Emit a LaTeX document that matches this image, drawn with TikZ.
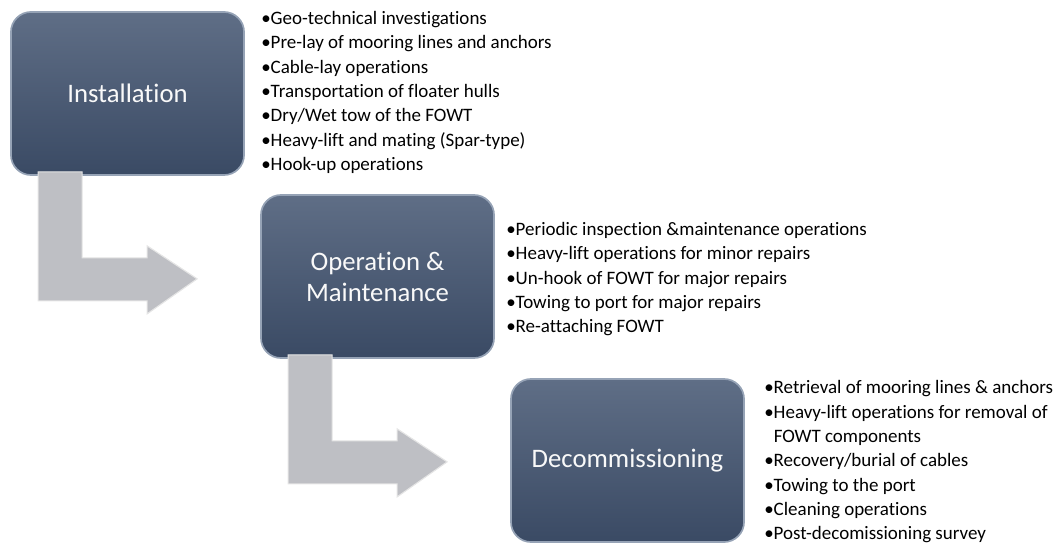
\documentclass[tikz,border=0pt]{standalone}
\usepackage{fontspec}
\setmainfont[Ligatures=NoCommon]{Carlito}
\usetikzlibrary{calc}
\definecolor{cajaarriba}{RGB}{95,110,134}
\definecolor{cajaabajo}{RGB}{58,74,100}
\definecolor{cajaborde}{RGB}{150,163,182}
\definecolor{flecha}{RGB}{190,191,196}

\begin{document}
\begin{tikzpicture}[x=0.025cm,y=-0.025cm,
		etapa/.style={rounded corners=0.5cm, minimum width=5.825cm, minimum height=4.075cm,
			top color=cajaarriba, bottom color=cajaabajo, draw=cajaborde, line width=1.2pt,
			text=white!95!gray, align=center, font=\fontsize{19}{22}\selectfont},
		lista/.style={anchor=north west, align=left, inner sep=0pt,
			font=\fontsize{13.5}{17.3}\selectfont}]
		\useasboundingbox (0,0) rectangle (1062,543);
		
		% Cajas de las etapas
		\node[etapa] (inst) at (127.5,93.5) {Installation};
		\node[etapa] (om) at (377.5,276.5) {Operation \&\\Maintenance};
		\node[etapa] (dec) at (627.5,460.5) {Decommissioning};
		
		% Flechas en L entre etapas
		\foreach \n in {inst,om}
			\filldraw[fill=flecha, draw=white!80!gray, line width=0.8pt]
				($(\n.south west)+(28,-4)$) -- ($(\n.south west)+(28,125)$)
				-- ($(\n.south west)+(137,125)$) -- ($(\n.south west)+(137,138)$)
				-- ($(\n.south west)+(187,103)$) -- ($(\n.south west)+(137,70)$)
				-- ($(\n.south west)+(137,82)$) -- ($(\n.south west)+(72,82)$)
				-- ($(\n.south west)+(72,-4)$) -- cycle;
		
		% Listas de tareas
		\node[lista] (tinst) at (261,11) {•Geo-technical investigations\\
			•Pre-lay of mooring lines and anchors\\
			•Cable-lay operations\\
			•Transportation of floater hulls\\
			•Dry/Wet tow of the FOWT\\
			•Heavy-lift and mating (Spar-type)\\
			•Hook-up operations};
		\node[lista] (tom) at (506,222) {•Periodic inspection \&maintenance operations\\
			•Heavy-lift operations for minor repairs\\
			•Un-hook of FOWT for major repairs\\
			•Towing to port for major repairs\\
			•Re-attaching FOWT};
		\node[lista] (tdec) at (764,380.5) {•Retrieval of mooring lines \& anchors\\
			•Heavy-lift operations for removal of\\
			\hphantom{•}FOWT components\\
			•Recovery/burial of cables\\
			•Towing to the port\\
			•Cleaning operations\\
			•Post-decomissioning survey};
	\end{tikzpicture}
\end{document}
